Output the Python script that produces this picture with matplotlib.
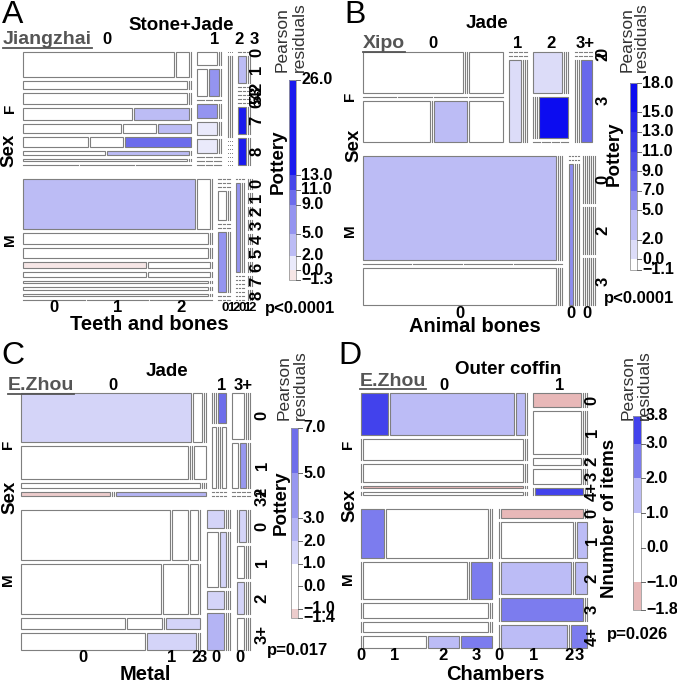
import matplotlib
matplotlib.use("Agg")
import matplotlib.pyplot as plt
from matplotlib.patches import Rectangle

plt.rcParams["font.family"] = ["Liberation Sans", "DejaVu Sans"]

SEX = ["F", "M"]

# ---------------- A: Jiangzhai ----------------
A_JADE = ["0", "1", "2", "3"]
A_POTTERY = ["0", "1", "2", "3", "4", "5", "6", "7", "8"]
A_TEETH = ["0", "1", "2"]
# counts[sex][jade][pottery][teeth]
A_COUNTS = [
    [
        [[12, 1, 0], [4, 0, 0], [6, 0, 0], [4, 2, 0], [3, 1, 1], [2, 1, 2], [1, 1, 0], [1, 0, 0], [0, 0, 0]],
        [[1, 0, 0], [1, 1, 0], [0, 0, 0], [1, 0, 0], [1, 0, 0], [1, 0, 0], [0, 0, 0], [0, 0, 0], [0, 0, 0]],
        [[0, 0, 0], [1, 0, 0], [0, 0, 0], [0, 0, 0], [0, 0, 0], [0, 0, 0], [0, 0, 0], [0, 0, 0], [0, 0, 0]],
        [[0, 0, 0], [1, 0, 0], [0, 0, 0], [0, 0, 0], [0, 0, 0], [0, 0, 0], [0, 0, 0], [1, 0, 0], [1, 0, 0]],
    ],
    [
        [[27, 2, 0], [6, 0, 0], [6, 0, 0], [2, 1, 0], [2, 1, 0], [1, 0, 0], [2, 0, 0], [1, 0, 0], [0, 0, 0]],
        [[0, 0, 0], [0, 0, 0], [0, 0, 0], [1, 0, 0], [0, 0, 0], [0, 0, 0], [2, 0, 0], [0, 0, 0], [0, 0, 0]],
        [[0, 0, 0], [2, 0, 0], [0, 0, 0], [0, 0, 0], [0, 0, 0], [0, 0, 0], [0, 0, 0], [0, 0, 0], [0, 0, 0]],
        [[0, 0, 0], [0, 0, 0], [0, 0, 0], [0, 0, 0], [0, 0, 0], [0, 0, 0], [0, 0, 0], [0, 0, 0], [0, 0, 0]],
    ],
]
# (sex, jade, pottery, teeth, pearson residual)
A_RESID = [
    (0, 0, 3, 1, 4), (0, 0, 4, 2, 4), (0, 0, 5, 2, 10), (0, 0, 6, 1, 3),
    (0, 1, 1, 1, 8), (0, 1, 3, 0, 7), (0, 1, 4, 0, 1.8), (0, 1, 5, 0, 1.8),
    (0, 3, 1, 0, 4), (0, 3, 7, 0, 20), (0, 3, 8, 0, 20),
    (1, 0, 0, 0, 3), (1, 0, 3, 0, -1.2), (1, 1, 6, 0, 6), (1, 2, 1, 0, 8),
]
A_TICKS = [26, 13, 11, 9, 5, 2, 0, -1.3]

# ---------------- B: Xipo ----------------
B_JADE = ["0", "1", "2", "3+"]
B_POTTERY = ["0", "2", "3"]
B_BONES = ["0", "", "", ""]
B_COUNTS = [
    [
        [[3, 0, 0, 1], [0, 0, 0, 0], [2, 0, 1, 1]],
        [[0, 0, 0, 0], [0, 0, 0, 0], [1, 0, 0, 0]],
        [[1, 0, 0, 0], [0, 0, 0, 1], [0, 0, 0, 0]],
        [[0, 0, 0, 0], [0, 0, 0, 0], [0, 0, 0, 1]],
    ],
    [
        [[14, 0, 0, 0], [0, 0, 0, 0], [5, 0, 0, 0]],
        [[0, 0, 0, 0], [0, 0, 0, 0], [1, 0, 0, 0]],
        [[0, 0, 0, 0], [0, 0, 0, 0], [0, 0, 0, 0]],
        [[0, 0, 0, 0], [0, 0, 0, 0], [0, 0, 0, 0]],
    ],
]
B_RESID = [
    (0, 0, 2, 2, 3), (0, 1, 2, 0, 1), (0, 2, 0, 0, 1), (0, 2, 1, 3, 17), (0, 3, 2, 3, 8),
    (1, 0, 0, 0, 3), (1, 1, 2, 0, 5.5),
]
B_TICKS = [18, 15, 13, 11, 9, 7, 5, 2, 0, -1.1]

# ---------------- C: E.Zhou, Jade x Metal ----------------
C_JADE = ["0", "1", "3+"]
C_POTTERY = ["0", "1", "2", "3+"]
C_METAL = ["0", "1", "2", "3"]
C_COUNTS = [
    [
        [[21, 1, 0, 0], [14, 0, 0, 1], [2, 0, 0, 0], [1, 0, 0, 1]],
        [[0, 0, 0, 1], [1, 0, 0, 1], [0, 0, 0, 0], [0, 0, 0, 0]],
        [[2, 0, 0, 0], [1, 1, 0, 0], [0, 0, 0, 0], [0, 0, 0, 0]],
    ],
    [
        [[18, 2, 1, 0], [17, 3, 1, 0], [3, 1, 0, 1], [5, 2, 0, 0]],
        [[1, 0, 0, 0], [2, 1, 0, 0], [1, 0, 0, 0], [2, 0, 0, 0]],
        [[0, 1, 0, 0], [1, 0, 0, 0], [1, 0, 0, 0], [1, 0, 0, 0]],
    ],
]
C_RESID = [
    (0, 0, 0, 0, 1.5), (0, 0, 3, 0, -1.2), (0, 0, 3, 3, 2.5), (0, 1, 0, 3, 6), (0, 2, 1, 1, 3.5),
    (1, 0, 2, 3, 1.5), (1, 0, 3, 1, 1.5), (1, 1, 0, 0, 1.5), (1, 1, 1, 1, 1.5), (1, 1, 2, 0, 1.5),
    (1, 1, 3, 0, 2.5), (1, 2, 0, 1, 1.5), (1, 2, 2, 0, 1.5),
]
C_TICKS = [7, 5, 3, 2, 1, 0, -1, -1.4]

# ---------------- D: E.Zhou, Outer coffin x Chambers ----------------
D_COFFIN = ["0", "1"]
D_ITEMS = ["0", "1", "2", "3", "4+"]
D_CHAMBERS = ["0", "1", "2", "3"]
D_COUNTS = [
    [
        [[3, 14, 1, 0], [0, 9, 0, 0], [0, 8, 0, 0], [0, 1, 0, 0], [0, 1, 0, 0]],
        [[2, 0, 0, 0], [6, 0, 0, 0], [1, 0, 0, 0], [2, 0, 0, 0], [0, 1, 0, 0]],
    ],
    [
        [[3, 13, 0, 0], [0, 10, 0, 2], [0, 5, 0, 0], [0, 3, 0, 0], [0, 2, 1, 1]],
        [[0, 2, 0, 0], [0, 7, 0, 1], [0, 6, 0, 1], [0, 5, 0, 0], [0, 4, 0, 1]],
    ],
]
D_RESID = [
    (0, 0, 0, 0, 3.4), (0, 0, 0, 1, 1.5), (0, 0, 0, 2, 1.5), (0, 0, 3, 1, -1.2),
    (0, 1, 0, 0, -1.5), (0, 1, 4, 1, 3.5),
    (1, 0, 0, 0, 2.5), (1, 0, 1, 3, 2.5), (1, 0, 4, 2, 1.5), (1, 0, 4, 3, 2.5),
    (1, 1, 0, 1, -1.5), (1, 1, 1, 3, 1.5), (1, 1, 2, 1, 1.5), (1, 1, 2, 3, 1.5),
    (1, 1, 3, 1, 2.5), (1, 1, 4, 1, 1.5), (1, 1, 4, 3, 2.5),
]
D_TICKS = [3.8, 3, 2, 1, 0, -1, -1.8]

# shading bands (lo, hi, colour)
A_BANDS = [(-1.3, 0, "#f6e6e6"), (0, 2, "#eaeafb"), (2, 5, "#bcbcf5"), (5, 9, "#9494f0"),
           (9, 11, "#6c6cec"), (11, 13, "#4848ea"), (13, 26, "#1a1aee")]
B_BANDS = [(-1.1, 0, "#ffffff"), (0, 2, "#dcdcf8"), (2, 5, "#bcbcf5"), (5, 7, "#8c8cf0"),
           (7, 9, "#6868ec"), (9, 11, "#5050ea"), (11, 13, "#3a3aea"), (13, 15, "#2626ec"),
           (15, 18, "#0c0cf0")]
C_BANDS = [(-1.4, -1, "#eccccc"), (-1, 1, "#ffffff"), (1, 2, "#d4d4f8"), (2, 3, "#b4b4f4"),
           (3, 5, "#9898f0"), (5, 7, "#6e6eea")]
D_BANDS = [(-1.8, -1, "#e8b8b8"), (-1, 1, "#ffffff"), (1, 2, "#bcbcf6"), (2, 3, "#7c7cee"),
           (3, 3.8, "#4242ec")]

EDGE = "#7f7f7f"
GAPS = (14, 6.5, 4, 2)


def split(lo, size, weights, gap):
    n = len(weights)
    tot = float(sum(weights))
    avail = size - gap * (n - 1)
    if avail < 0:
        lo += avail / 2.0
        avail = 0.0
    props = [w / tot for w in weights] if tot > 0 else [1.0 / n] * n
    parts, pos = [], lo
    for p in props:
        parts.append((pos, avail * p))
        pos += avail * p + gap
    return parts


def layout(counts, box):
    x0, x1, y0, y1 = box
    cells = {}
    sex_tot = [sum(sum(sum(r) for r in c) for c in s) for s in counts]
    for s, (sy, sh) in enumerate(split(y0, y1 - y0, sex_tot, GAPS[0])):
        col_tot = [sum(sum(r) for r in c) for c in counts[s]]
        for c, (cx, cw) in enumerate(split(x0, x1 - x0, col_tot, GAPS[1])):
            row_tot = [sum(r) for r in counts[s][c]]
            for r, (ry, rh) in enumerate(split(sy, sh, row_tot, GAPS[2])):
                for k, (kx, kw) in enumerate(split(cx, cw, counts[s][c][r], GAPS[3])):
                    cells[(s, c, r, k)] = (kx, ry, kw, rh)
    return cells


def band_color(bands, r):
    if r is None:
        return "white"
    for lo, hi, col in bands:
        if lo <= r <= hi:
            return col
    return bands[-1][2] if r > 0 else bands[0][2]


def fmt(v):
    return ("%.1f" % v).replace("-", "\u2212")


def spread(pos, sp):
    # push apart clusters of labels closer than sp, keeping each cluster centred
    groups = [[pos[0]]]
    for v in pos[1:]:
        if v - groups[-1][-1] < sp:
            groups[-1].append(v)
        else:
            groups.append([v])
    out = []
    for g in groups:
        m = sum(g) / len(g)
        out += [m + sp * (i - (len(g) - 1) / 2.0) for i in range(len(g))]
    return out


def draw_panel(ax, p):
    counts = p["counts"]
    cells = layout(counts, p["box"])
    resid = {(a, b, c, d): v for a, b, c, d, v in p["resid"]}
    for key, (x, y, w, h) in cells.items():
        col = band_color(p["bands"], resid.get(key))
        if w > 0.5 and h > 0.5:
            ax.add_patch(Rectangle((x, y), w, h, facecolor=col, edgecolor=EDGE, lw=0.8))
        elif h > 0.5:
            ax.plot([x + w / 2, x + w / 2], [y, y + h], color=EDGE, lw=0.8)
        elif w > 0.5:
            ax.plot([x, x + w], [y + h / 2, y + h / 2], color=EDGE, lw=0.8)
        else:
            ax.plot([x], [y], marker="s", ms=0.7, color=EDGE, mec="none")

    ncol = len(counts[0])
    nrow = len(counts[0][0])
    ninner = len(counts[0][0][0])
    lab = dict(fontsize=12, fontweight="bold", ha="center", va="center")

    # column labels on top (from the F row)
    for c, name in enumerate(p["cols"]):
        xs = [cells[(0, c, r, k)][0] for r in range(nrow) for k in range(ninner)]
        xe = [cells[(0, c, r, k)][0] + cells[(0, c, r, k)][2] for r in range(nrow) for k in range(ninner)]
        ax.text((min(xs) + max(xe)) / 2 + p["col_dx"][c], p["col_label_y"], name, **lab)

    # row labels on the right (from the last column)
    for s in range(2):
        for r, name in enumerate(p["rows"]):
            x, y, w, h = cells[(s, ncol - 1, r, 0)]
            ax.text(p["row_label_x"], y + h / 2, name, rotation=90, **lab)

    # inner labels at the bottom (from the last row of M)
    for c, ks, dx, fs in p["bottom"]:
        pos = []
        for k in ks:
            x, y, w, h = cells[(1, c, nrow - 1, k)]
            pos.append(x + w / 2 + dx)
        if len(pos) > 1:
            pos = spread(pos, 0.55 * fs)
        for k, xp in zip(ks, pos):
            ax.text(xp, p["bottom_label_y"], p["inner"][k], fontsize=fs, fontweight="bold",
                    ha="center", va="center")

    # F / M
    for s in range(2):
        ys = [cells[(s, c, r, 0)][1] for c in range(ncol) for r in range(nrow)]
        ye = [cells[(s, c, r, 0)][1] + cells[(s, c, r, 0)][3] for c in range(ncol) for r in range(nrow)]
        ax.text(p["box"][0] - 13, (min(ys) + max(ye)) / 2, SEX[s], rotation=90,
                fontsize=11, fontweight="bold", ha="center", va="center")

    big = dict(fontsize=13.5, fontweight="bold", ha="center", va="center")
    ax.text(*p["sex_xy"], "Sex", rotation=90, **big)
    ax.text(*p["title_xy"], p["title"], **big)
    ax.text(*p["xlabel_xy"], p["xlabel"], fontsize=14.5, fontweight="bold", ha="center", va="center")
    ax.text(*p["ylabel_xy"], p["ylabel"], rotation=90, **big)
    ax.text(*p["p_xy"], p["pval"], fontsize=12, fontweight="bold", ha="center", va="center")
    ax.text(*p["letter_xy"], p["letter"], fontsize=23, ha="center", va="center")
    site = ax.text(p["site_xy"][0], p["site_xy"][1], p["site"], fontsize=14, fontweight="bold",
                   color="#555555", ha="left", va="center")
    p["site_artist"] = site

    # Pearson residuals legend
    px0, px1 = p["pearson_x"]
    ax.text(px0, p["pearson_y"], "Pearson", rotation=90, fontsize=12.5, color="#333333",
            ha="center", va="bottom")
    ax.text(px1, p["pearson_y"], "residuals", rotation=90, fontsize=12.5, color="#333333",
            ha="center", va="bottom")
    bx0, bx1, by0, by1 = p["bar"]
    vmax = p["bands"][-1][1]
    vmin = p["bands"][0][0]

    def ypos(v):
        return by0 + (vmax - v) / (vmax - vmin) * (by1 - by0)

    for lo, hi, col in p["bands"]:
        ax.add_patch(Rectangle((bx0, ypos(hi)), bx1 - bx0, ypos(lo) - ypos(hi),
                               facecolor=col, edgecolor="none"))
    ax.add_patch(Rectangle((bx0, by0), bx1 - bx0, by1 - by0, facecolor="none",
                           edgecolor="#9a9a9a", lw=0.6))
    for t in p["ticks"]:
        ax.plot([bx1, bx1 + 4], [ypos(t), ypos(t)], color="#666666", lw=0.7)
        ax.text(bx1 + 5, ypos(t), fmt(t), fontsize=11.5, fontweight="bold", ha="left", va="center")


PANELS = [
    dict(letter="A", letter_xy=(13, 15), site="Jiangzhai", site_xy=(3, 40),
         title="Stone+Jade", title_xy=(181, 25), xlabel="Teeth and bones", xlabel_xy=(149, 325),
         ylabel="Pottery", ylabel_xy=(278, 162), sex_xy=(9, 150), pval="p<0.0001", p_xy=(300, 308),
         counts=A_COUNTS, resid=A_RESID, cols=A_JADE, rows=A_POTTERY, inner=A_TEETH,
         box=(23, 250, 52, 300), bands=A_BANDS, ticks=A_TICKS, bar=(289, 296, 80, 280),
         pearson_x=(282, 299), pearson_y=72, col_label_y=40, col_dx=[0, 6, 9, 10],
         row_label_x=257, bottom_label_y=308,
         bottom=[(0, [0, 1, 2], 0, 12), (2, [0, 1, 2], -9, 9.5), (3, [0, 1, 2], -3, 9.5)]),
    dict(letter="B", letter_xy=(355, 15), site="Xipo", site_xy=(363, 44),
         title="Jade", title_xy=(487, 24), xlabel="Animal bones", xlabel_xy=(475, 326),
         ylabel="Pottery", ylabel_xy=(614, 154), sex_xy=(354, 145), pval="p<0.0001", p_xy=(639, 298),
         counts=B_COUNTS, resid=B_RESID, cols=B_JADE, rows=B_POTTERY, inner=B_BONES,
         box=(363, 592, 52, 305), bands=B_BANDS, ticks=B_TICKS, bar=(630, 637, 83, 270),
         pearson_x=(627, 641), pearson_y=72, col_label_y=44, col_dx=[0, 0, 0, 2],
         row_label_x=603, bottom_label_y=313,
         bottom=[(0, [0], 0, 12), (1, [0], 0, 12), (3, [0], -2, 12)]),
    dict(letter="C", letter_xy=(13, 356), site="E.Zhou", site_xy=(8, 386),
         title="Jade", title_xy=(167, 371), xlabel="Metal", xlabel_xy=(145, 674),
         ylabel="Pottery", ylabel_xy=(281, 503), sex_xy=(10, 497), pval="p=0.017", p_xy=(298, 650),
         counts=C_COUNTS, resid=C_RESID, cols=C_JADE, rows=C_POTTERY, inner=C_METAL,
         box=(21, 250, 393, 650), bands=C_BANDS, ticks=C_TICKS, bar=(291, 298, 428, 618),
         pearson_x=(284, 300), pearson_y=420, col_label_y=386, col_dx=[0, 3, 2],
         row_label_x=262, bottom_label_y=657,
         bottom=[(0, [0, 1, 2, 3], 0, 12), (1, [0], 0, 12), (2, [0], 0, 12)]),
    dict(letter="D", letter_xy=(350, 356), site="E.Zhou", site_xy=(360, 381),
         title="Outer coffin", title_xy=(508, 370), xlabel="Chambers", xlabel_xy=(495, 675),
         ylabel="Nnumber of items", ylabel_xy=(609, 518), sex_xy=(350, 505), pval="p=0.026",
         p_xy=(638, 634), counts=D_COUNTS, resid=D_RESID, cols=D_COFFIN, rows=D_ITEMS,
         inner=D_CHAMBERS, box=(361, 587, 393, 648), bands=D_BANDS, ticks=D_TICKS,
         bar=(633, 641, 416, 610), pearson_x=(628, 644), pearson_y=420, col_label_y=386,
         col_dx=[0, 0], row_label_x=592, bottom_label_y=656,
         bottom=[(0, [0, 1, 2, 3], 0, 12), (1, [0, 1, 2, 3], 0, 12)]),
]

fig = plt.figure(figsize=(6.77, 6.84), dpi=100)
ax = fig.add_axes([0, 0, 1, 1])
ax.set_xlim(0, 677)
ax.set_ylim(684, 0)
ax.axis("off")

for panel in PANELS:
    draw_panel(ax, panel)

# underline the site names
renderer = fig.canvas.get_renderer()
inv = ax.transData.inverted()
for panel in PANELS:
    bb = panel["site_artist"].get_window_extent(renderer=renderer)
    (xa, ya), (xb, yb) = inv.transform([[bb.x0, bb.y0], [bb.x1, bb.y1]])
    y_line = max(ya, yb) - 1
    ax.plot([xa, xb], [y_line, y_line], color="#555555", lw=1.3)

fig.savefig("out.png", dpi=100)
